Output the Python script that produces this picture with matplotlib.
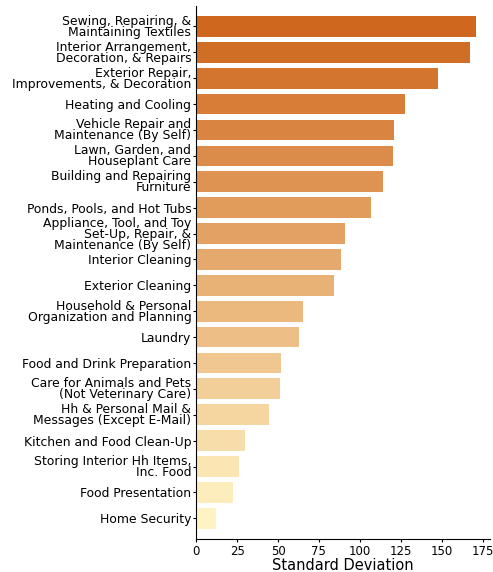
import numpy as np
import matplotlib.pyplot as plt
from matplotlib.colors import LinearSegmentedColormap

categories = [
    'Sewing, Repairing, &\nMaintaining Textiles',
    'Interior Arrangement,\nDecoration, & Repairs',
    'Exterior Repair,\nImprovements, & Decoration',
    'Heating and Cooling',
    'Vehicle Repair and\nMaintenance (By Self)',
    'Lawn, Garden, and\nHouseplant Care',
    'Building and Repairing\nFurniture',
    'Ponds, Pools, and Hot Tubs',
    'Appliance, Tool, and Toy\nSet-Up, Repair, &\nMaintenance (By Self)',
    'Interior Cleaning',
    'Exterior Cleaning',
    'Household & Personal\nOrganization and Planning',
    'Laundry',
    'Food and Drink Preparation',
    'Care for Animals and Pets\n(Not Veterinary Care)',
    'Hh & Personal Mail &\nMessages (Except E-Mail)',
    'Kitchen and Food Clean-Up',
    'Storing Interior Hh Items,\nInc. Food',
    'Food Presentation',
    'Home Security',
]
std_dev = [171.1, 167.5, 147.8, 127.7, 121.0, 120.4, 114.3, 106.9, 91.0, 88.5,
           84.3, 65.3, 62.9, 51.8, 51.2, 44.5, 29.8, 26.2, 22.5, 12.1]

cmap = LinearSegmentedColormap.from_list('orng', ['#cf671e', '#fff3c4'])
colors = [cmap(i / (len(categories) - 1)) for i in range(len(categories))]

fig, ax = plt.subplots(figsize=(4.93, 5.72), dpi=100)
y = np.arange(len(categories))
ax.barh(y, std_dev, color=colors, height=0.8)
ax.set_yticks(y)
ax.set_yticklabels(categories, fontsize=8.9, linespacing=0.8)
ax.set_ylim(19.8, -0.8)
ax.set_xlim(0, 179.6)
ax.set_xticks(np.arange(0, 176, 25))
ax.tick_params(axis='x', labelsize=8.5, length=2.5, pad=1.5)
ax.tick_params(axis='y', length=2.5, pad=1)
ax.set_xlabel('Standard Deviation', fontsize=10.5, labelpad=0)
ax.spines['top'].set_visible(False)
ax.spines['right'].set_visible(False)

plt.subplots_adjust(left=0.398, right=0.994, top=0.990, bottom=0.0577)
plt.savefig('out.png', dpi=100)
